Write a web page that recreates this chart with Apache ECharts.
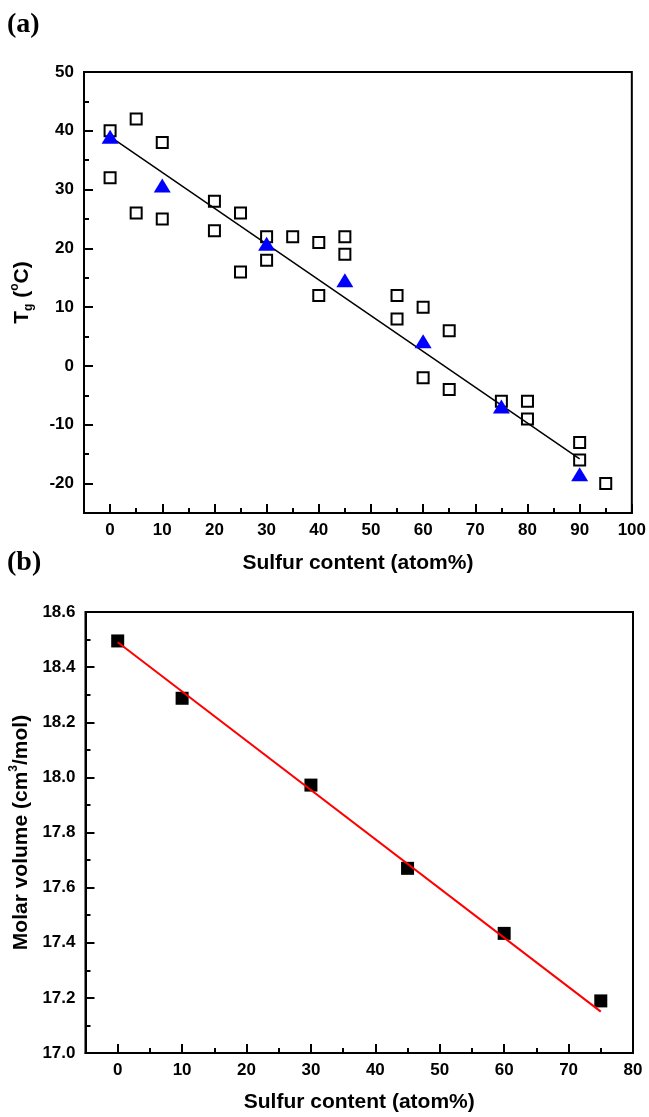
<!DOCTYPE html>
<html>
<head>
<meta charset="utf-8">
<script src="https://cdn.jsdelivr.net/npm/echarts@6/dist/echarts.min.js"></script>
<style>
  html, body { margin: 0; padding: 0; background: #fff; }
  #main { width: 649px; height: 1117px; }
</style>
</head>
<body>
<div id="main"></div>
<script>
// (a) Tg vs sulfur content
var tgSampleX = [0, 0, 5, 5, 10, 10, 20, 20, 25, 25, 30, 30, 35, 40, 40, 45, 45, 55, 55, 60, 60, 65, 65, 75, 80, 80, 90, 90, 95];
var tgSampleY = [40, 32, 42, 26, 38, 25, 28, 23, 26, 16, 22, 18, 22, 21, 12, 22, 19, 12, 8, 10, -2, 6, -4, -6, -6, -9, -13, -16, -20];
var tgMeanX = [0, 10, 30, 45, 60, 75, 90];
var tgMeanY = [39, 30.7, 20.8, 14.6, 4.2, -6.9, -18.4];
var tgFitX = [0, 90];
var tgFitY = [39, -15.8];
var tgXTicks = [0, 10, 20, 30, 40, 50, 60, 70, 80, 90, 100];
var tgXMinor = [5, 15, 25, 35, 45, 55, 65, 75, 85, 95];
var tgYTicks = [-20, -10, 0, 10, 20, 30, 40, 50];
var tgYMinor = [-15, -5, 5, 15, 25, 35, 45];

// (b) molar volume vs sulfur content
var vmX = [0, 10, 30, 45, 60, 75];
var vmY = [18.495, 18.287, 17.972, 17.67, 17.434, 17.189];
var vmFitX = [0, 75];
var vmFitY = [18.49, 17.15];
var vmXTicks = [0, 10, 20, 30, 40, 50, 60, 70, 80];
var vmXMinor = [5, 15, 25, 35, 45, 55, 65, 75];
var vmYTicks = [17.0, 17.2, 17.4, 17.6, 17.8, 18.0, 18.2, 18.4, 18.6];
var vmYMinor = [17.1, 17.3, 17.5, 17.7, 17.9, 18.1, 18.3, 18.5];

function pairs(xs, ys) {
    return xs.map(function (x, i) { return [x, ys[i]]; });
}

var font = "'Liberation Sans', Arial, sans-serif";
var labelStyle = { color: '#000', fontFamily: font, fontWeight: 'bold', fontSize: 17 };
var nameStyle = { color: '#000', fontFamily: font, fontWeight: 'bold', fontSize: 21 };

function mainAxis(dim, grid, min, max, ticks, name, nameGap, fmt, rich) {
    var ax = {
        type: 'value', gridIndex: grid, min: min, max: max,
        position: dim === 'x' ? 'bottom' : 'left',
        name: name, nameLocation: 'middle', nameGap: nameGap,
        nameTextStyle: rich ? Object.assign({}, nameStyle, { rich: rich }) : nameStyle,
        axisLine: { show: true, onZero: false, lineStyle: { color: '#000', width: 2 } },
        axisTick: { show: true, inside: true, length: 9, lineStyle: { color: '#000', width: 2 }, customValues: ticks },
        axisLabel: Object.assign({ margin: dim === 'x' ? 9 : 10, customValues: ticks }, labelStyle),
        splitLine: { show: false }
    };
    if (fmt) ax.axisLabel.formatter = fmt;
    if (dim === 'y') ax.nameRotate = 90;
    return ax;
}

function minorAxis(dim, grid, min, max, ticks) {
    return {
        type: 'value', gridIndex: grid, min: min, max: max,
        position: dim === 'x' ? 'bottom' : 'left',
        axisLine: { show: false, onZero: false },
        axisTick: { show: true, inside: true, length: 5, lineStyle: { color: '#000', width: 2 }, customValues: ticks },
        axisLabel: { show: false },
        splitLine: { show: false }
    };
}

var big = { fontSize: 21, fontWeight: 'bold', fontFamily: font, color: '#000', lineHeight: 26, verticalAlign: 'middle' };
var sub = { fontSize: 12, fontWeight: 'bold', fontFamily: font, color: '#000', lineHeight: 26, verticalAlign: 'bottom' };
var sup = { fontSize: 12, fontWeight: 'bold', fontFamily: font, color: '#000', lineHeight: 26, verticalAlign: 'top' };

var option = {
    backgroundColor: '#fff',
    animation: false,
    graphic: [
        { type: 'text', left: 7, top: 11, style: { text: '(a)', fill: '#000', font: "bold 28px 'Liberation Serif', 'Times New Roman', serif" } },
        { type: 'text', left: 7, top: 549, style: { text: '(b)', fill: '#000', font: "bold 28px 'Liberation Serif', 'Times New Roman', serif" } }
    ],
    grid: [
        { left: 84, top: 72, width: 549, height: 441, show: true, borderColor: '#000', borderWidth: 2, backgroundColor: 'transparent' },
        { left: 84, top: 612, width: 549, height: 441, show: true, borderColor: '#000', borderWidth: 2, backgroundColor: 'transparent' }
    ],
    xAxis: [
        mainAxis('x', 0, -5, 100, tgXTicks, 'Sulfur content (atom%)', 40),
        minorAxis('x', 0, -5, 100, tgXMinor),
        mainAxis('x', 1, -5, 80, vmXTicks, 'Sulfur content (atom%)', 39),
        minorAxis('x', 1, -5, 80, vmXMinor)
    ],
    yAxis: [
        mainAxis('y', 0, -25, 50, tgYTicks, '{m|T}{sub|g}{m| (}{sup|o}{m|C)}', 49, null, { m: big, sub: sub, sup: sup }),
        minorAxis('y', 0, -25, 50, tgYMinor),
        mainAxis('y', 1, 17.0, 18.6, vmYTicks, '{m|Molar volume (cm}{sup|3}{m|/mol)}', 49, function (v) { return v.toFixed(1); }, { m: big, sup: sup }),
        minorAxis('y', 1, 17.0, 18.6, vmYMinor)
    ],
    series: [
        {
            type: 'scatter', xAxisIndex: 0, yAxisIndex: 0, z: 2,
            symbol: 'rect', symbolSize: 11,
            itemStyle: { color: '#fff', borderColor: '#000', borderWidth: 2, opacity: 1 },
            data: pairs(tgSampleX, tgSampleY)
        },
        {
            type: 'line', xAxisIndex: 0, yAxisIndex: 0, z: 3,
            showSymbol: false, lineStyle: { color: '#000', width: 1.5 },
            data: pairs(tgFitX, tgFitY)
        },
        {
            type: 'scatter', xAxisIndex: 0, yAxisIndex: 0, z: 4,
            symbol: 'triangle', symbolSize: [17, 14],
            itemStyle: { color: '#0000ff', opacity: 1 },
            data: pairs(tgMeanX, tgMeanY)
        },
        {
            type: 'scatter', xAxisIndex: 2, yAxisIndex: 2, z: 2,
            symbol: 'rect', symbolSize: 13,
            itemStyle: { color: '#000', opacity: 1 },
            data: pairs(vmX, vmY)
        },
        {
            type: 'line', xAxisIndex: 2, yAxisIndex: 2, z: 3,
            showSymbol: false, lineStyle: { color: '#ff0000', width: 2 },
            data: pairs(vmFitX, vmFitY)
        }
    ]
};

echarts.init(document.getElementById('main')).setOption(option);
</script>
</body>
</html>
